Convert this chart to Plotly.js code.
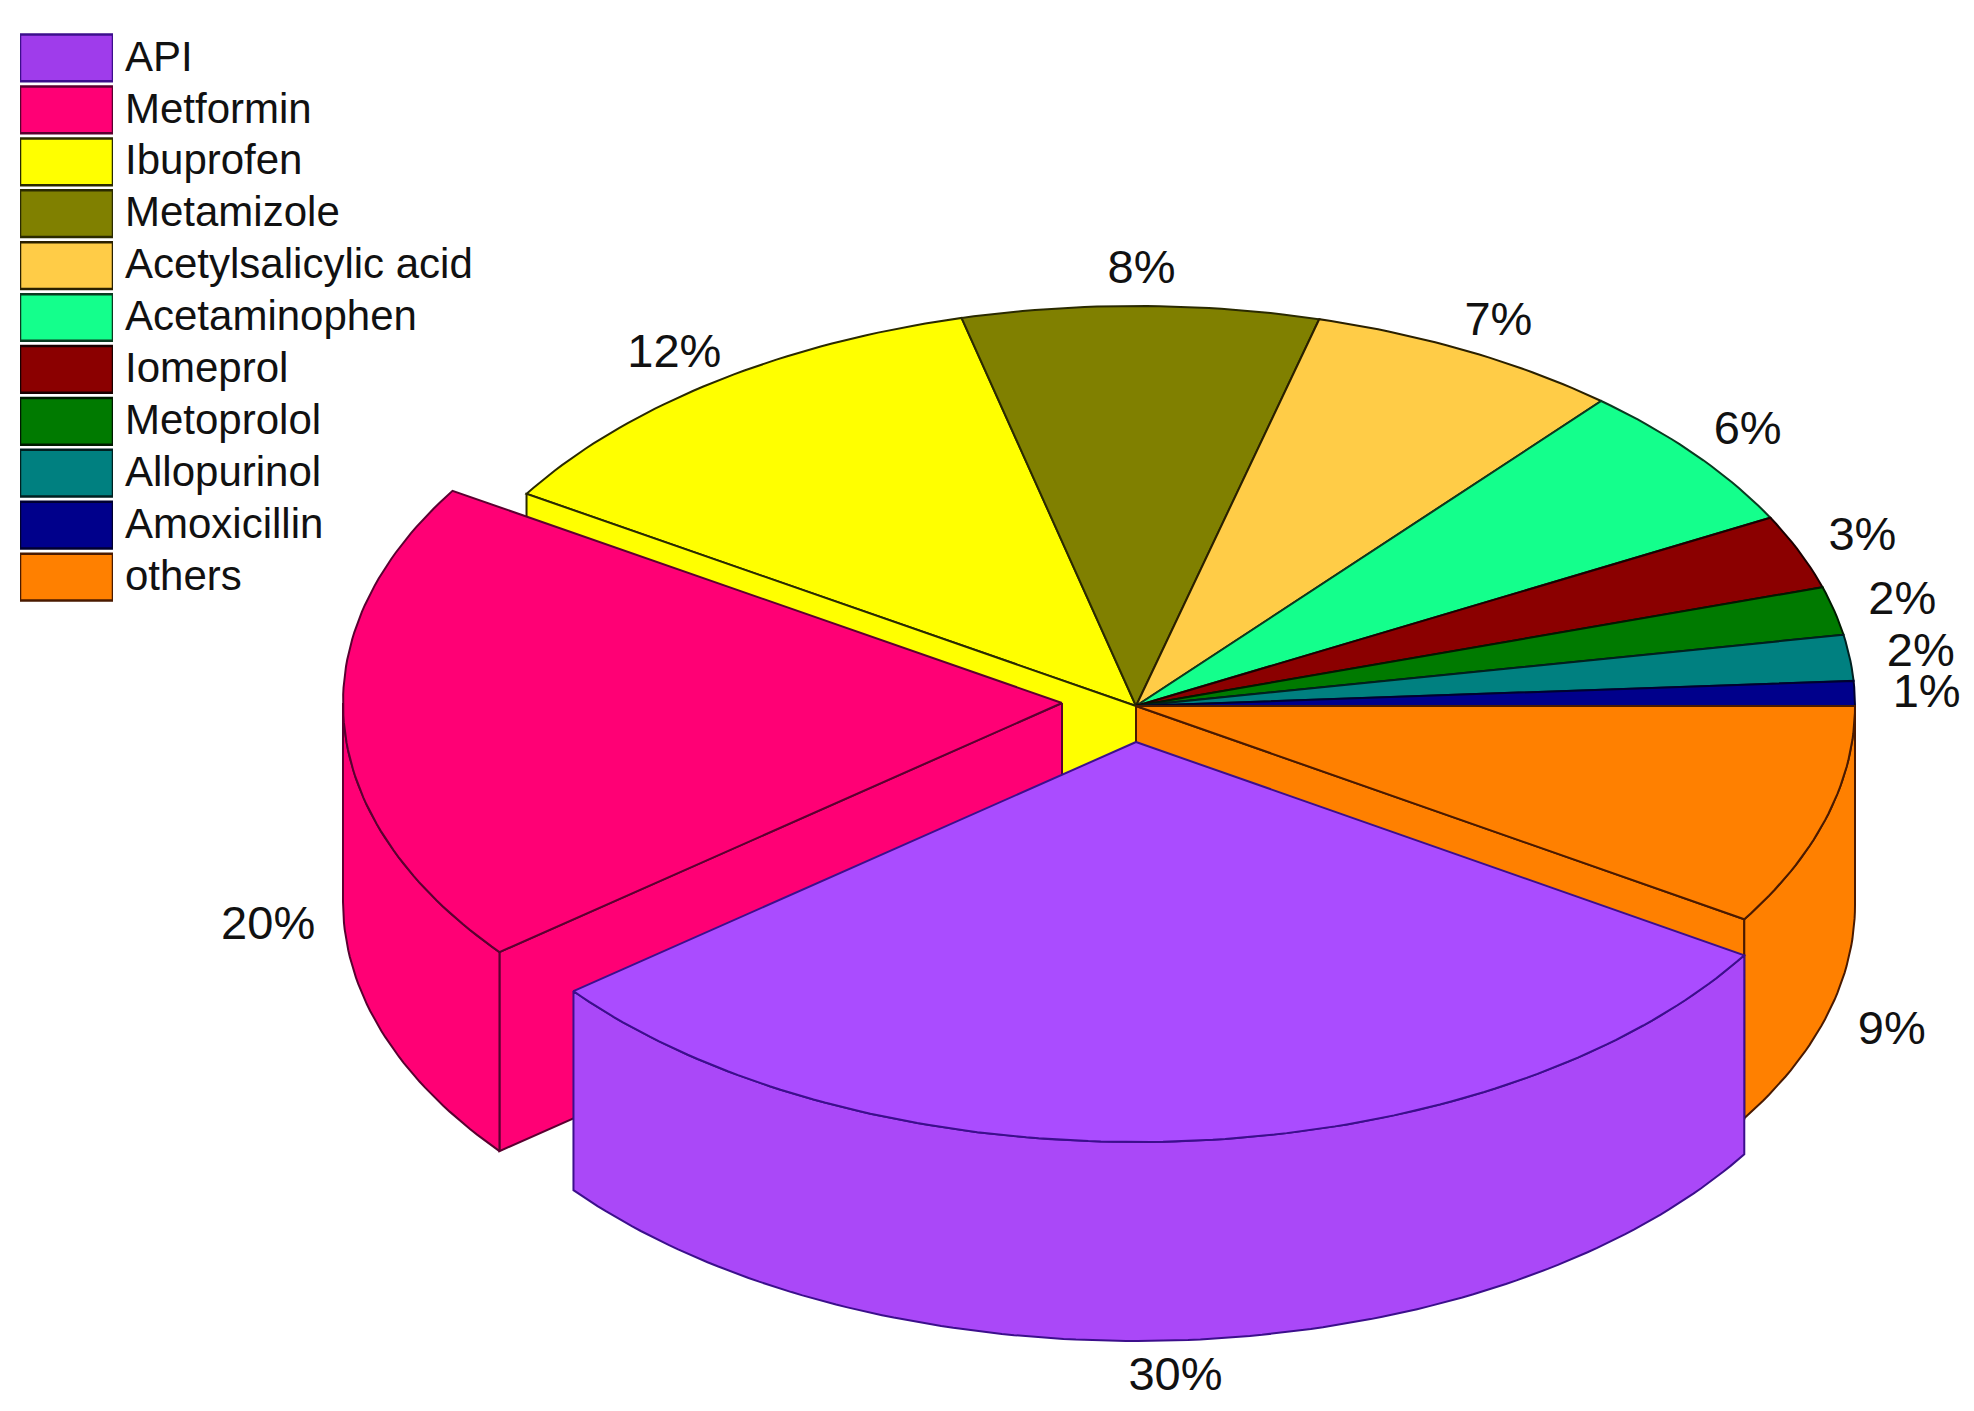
<!DOCTYPE html>
<html>
<head>
<meta charset="utf-8">
<style>html,body{margin:0;padding:0;background:#fff;overflow:hidden}</style>
<script src="https://cdn.plot.ly/plotly-3.0.1.min.js"></script>
</head>
<body>
<div id="chart" style="width:1974px;height:1411px"></div>
<script>
const sliceNames = ["API", "Metformin", "Ibuprofen", "Metamizole", "Acetylsalicylic acid",
  "Acetaminophen", "Iomeprol", "Metoprolol", "Allopurinol", "Amoxicillin", "others"];
const sliceValues = [30.35, 19.6, 12.2, 8.0, 7.1, 6.0, 3.0, 1.95, 1.85, 1.0, 8.95];

// Styles
const sliceColors = ["#aa4cff", "#ff0075", "#ffff00", "#808000", "#ffcc47", "#14ff8c",
  "#8b0000", "#007a00", "#008080", "#00008b", "#ff8000"];
const wallColors = ["#aa48f8", "#ff0075", "#ffff00", "#808000", "#ffcc47", "#14ff8c",
  "#8b0000", "#007a00", "#008080", "#00008b", "#ff8000"];
const edgeColors = ["#3c0f8c", "#5a0030", "#2a2a00", "#2a2a00", "#2a2000", "#0a3a20",
  "#1a0000", "#001a00", "#002020", "#000030", "#4a1a00"];
const swatchColors = ["#9f3ceb", "#ff0075", "#ffff00", "#808000", "#ffcc47", "#14ff8c",
  "#8b0000", "#007a00", "#008080", "#00008b", "#ff8000"];

// Projection of the pie on the page (axes run in page pixels)
const centerX = 1136, centerY = 706, radiusX = 719, radiusY = 400, depth = 199;

// Exploded slices and label nudges from the rim point of each slice
const pulls = { API: [0, 36], Metformin: [-74, -3] };
const labelNudges = [[0, 273], [-150, 199], [-39, -27], [1, -35], [30, -28], [52, -23],
  [63, -14], [68, -9], [71, -3], [72, 2], [65, 215]];

const total = sliceValues.reduce((a, b) => a + b, 0);

// Slices start after "others", which sits just below 3 o'clock, and run clockwise
const slices = [];
let angle = (sliceValues[sliceValues.length - 1] / total) * 360;
sliceNames.forEach((name, i) => {
  const sweep = (sliceValues[i] / total) * 360;
  const end = name === "others" ? sweep : angle + sweep;
  const start = name === "others" ? 0 : angle;
  slices.push({ name, i, start, end, pull: pulls[name] || [0, 0] });
  angle = end;
});

function rim(slice, deg, drop) {
  const rad = (deg * Math.PI) / 180;
  return [
    centerX + slice.pull[0] + radiusX * Math.cos(rad),
    centerY + slice.pull[1] + radiusY * Math.sin(rad) + (drop || 0),
  ];
}

function arc(slice, from, to, drop) {
  const steps = Math.max(2, Math.ceil(Math.abs(to - from)));
  const points = [];
  for (let s = 0; s <= steps; s++) {
    points.push(rim(slice, from + ((to - from) * s) / steps, drop));
  }
  return points;
}

function apex(slice, drop) {
  return [centerX + slice.pull[0], centerY + slice.pull[1] + (drop || 0)];
}

function polygonTrace(points, fill, line) {
  const closed = points.concat([points[0]]);
  return {
    type: "scatter",
    mode: "lines",
    x: closed.map((p) => p[0]),
    y: closed.map((p) => p[1]),
    fill: "toself",
    fillcolor: fill,
    line: { color: line, width: 2 },
    hoverinfo: "skip",
    showlegend: false,
  };
}

function topFace(slice) {
  return polygonTrace([apex(slice)].concat(arc(slice, slice.start, slice.end)),
    sliceColors[slice.i], edgeColors[slice.i]);
}

function outerWall(slice, from, to) {
  const points = arc(slice, from, to).concat(arc(slice, to, from, depth));
  return polygonTrace(points, wallColors[slice.i], edgeColors[slice.i]);
}

function radialWall(slice, deg) {
  const points = [apex(slice), rim(slice, deg), rim(slice, deg, depth), apex(slice, depth)];
  return polygonTrace(points, wallColors[slice.i], edgeColors[slice.i]);
}

const byName = (name) => slices.find((s) => s.name === name);
const api = byName("API"), metformin = byName("Metformin"), ibuprofen = byName("Ibuprofen"), others = byName("others");

const traces = [];

// Back slices first, then the front ones, painter style
slices.filter((s) => ![api, metformin, others].includes(s)).forEach((s) => traces.push(topFace(s)));
traces.push(radialWall(ibuprofen, ibuprofen.start));
traces.push(radialWall(others, others.end));
traces.push(outerWall(others, others.start, others.end));
traces.push(topFace(others));
traces.push(radialWall(metformin, metformin.start));
traces.push(outerWall(metformin, metformin.start, 180));
traces.push(topFace(metformin));
traces.push(outerWall(api, api.start, api.end));
traces.push(topFace(api));

// Percent labels
const labelPoints = slices.map((s, i) => {
  const p = rim({ pull: [0, 0] }, (s.start + s.end) / 2);
  return [p[0] + labelNudges[i][0], p[1] + labelNudges[i][1]];
});
traces.push({
  type: "scatter",
  mode: "text",
  x: labelPoints.map((p) => p[0]),
  y: labelPoints.map((p) => p[1]),
  text: sliceValues.map((v) => Math.round(v) + "%"),
  textposition: "middle center",
  textfont: { family: "Liberation Sans, Arial, sans-serif", size: 47, color: "#111" },
  hoverinfo: "skip",
  showlegend: false,
});

// Legend drawn as a small bar chart so the swatches can be as big as in the picture
traces.push({
  type: "bar",
  orientation: "h",
  xaxis: "x2",
  yaxis: "y2",
  x: sliceNames.map(() => 1),
  y: sliceNames,
  width: 0.9,
  marker: { color: swatchColors, line: { color: edgeColors, width: 2.5 } },
  hoverinfo: "skip",
  showlegend: false,
});
// Empty twin on y3 only carries the legend names, they sit slightly above the swatch centres
traces.push({
  type: "bar",
  orientation: "h",
  xaxis: "x2",
  yaxis: "y3",
  x: sliceNames.map(() => 0),
  y: sliceNames,
  marker: { color: "rgba(0,0,0,0)" },
  hoverinfo: "skip",
  showlegend: false,
});

const legendAxis = {
  anchor: "x2",
  type: "category",
  autorange: "reversed",
  showgrid: false,
  zeroline: false,
  showline: false,
  ticks: "",
  fixedrange: true,
};

const layout = {
  width: 1974,
  height: 1411,
  margin: { l: 0, r: 0, t: 0, b: 0 },
  paper_bgcolor: "#fff",
  plot_bgcolor: "rgba(0,0,0,0)",
  showlegend: false,
  xaxis: { range: [0, 1974], domain: [0, 1], visible: false, fixedrange: true },
  yaxis: { range: [1411, 0], domain: [0, 1], visible: false, fixedrange: true },
  xaxis2: {
    range: [0, 1],
    domain: [20 / 1974, 113 / 1974],
    anchor: "y2",
    visible: false,
    fixedrange: true,
  },
  yaxis2: Object.assign({}, legendAxis, {
    domain: [1 - 603 / 1411, 1 - 32 / 1411],
    showticklabels: false,
  }),
  yaxis3: Object.assign({}, legendAxis, {
    domain: [1 - 601 / 1411, 1 - 30 / 1411],
    side: "right",
    ticklabelstandoff: 11,
    tickfont: { family: "Liberation Sans, Arial, sans-serif", size: 42, color: "#111" },
  }),
};

Plotly.newPlot("chart", traces, layout, { displayModeBar: false, staticPlot: true });
</script>
</body>
</html>
